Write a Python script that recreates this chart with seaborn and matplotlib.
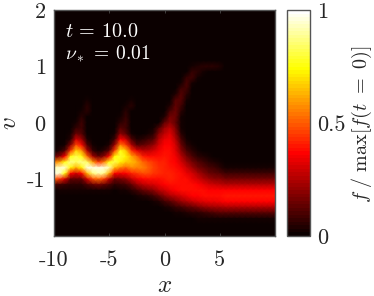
import numpy as np
import matplotlib
matplotlib.use('Agg')
import matplotlib.pyplot as plt
import seaborn as sns

# x grid -10..10 (step 0.5), v grid 1.2..-1.8 (step 0.1), values in percent of max
x_start, x_step = -10, 0.5
v_start, v_step = 1.2, 0.1
x_ticks = [-10, -5, 0, 5]
v_ticks = [2, 1, 0, -1]
cbar_ticks = [0, 0.5, 1]
cbar_labels = ['0', '0.5', '1']

f_rows = [
    [0]*41,
    [0]*41,
    [0]*25 + [2, 4, 5, 5, 5, 4, 0] + [0]*9,
    [0]*25 + [7, 6, 2] + [0]*13,
    [0]*24 + [7, 8, 2] + [0]*14,
    [0]*23 + [3, 10, 3] + [0]*15,
    [0]*23 + [9, 8] + [0]*16,
    [0]*22 + [4, 12, 5] + [0]*16,
    [0]*6 + [3] + [0]*7 + [3] + [0]*7 + [11, 11, 2] + [0]*16,
    [0]*6 + [5] + [0]*6 + [3, 5] + [0]*6 + [4, 14, 8] + [0]*17,
    [0]*5 + [3, 5] + [0]*6 + [6] + [0]*7 + [10, 15, 5] + [0]*17,
    [0]*5 + [6] + [0]*6 + [2, 7] + [0]*6 + [4, 16, 15, 3] + [0]*17,
    [0, 0, 0, 0, 3, 8, 1, 0, 0, 0, 0, 0, 5, 8, 0, 0, 0, 0, 0, 1, 14, 20, 14, 2] + [0]*17,
    [0, 0, 0, 0, 7, 9, 0, 0, 0, 0, 0, 0, 11, 8, 0, 0, 0, 0, 2, 12, 22, 27, 18, 3] + [0]*17,
    [0, 0, 0, 2, 15, 12, 1, 0, 0, 0, 0, 2, 20, 14, 2, 0, 0, 2, 5, 19, 28, 32, 21, 6, 1] + [0]*16,
    [0, 0, 0, 6, 31, 22, 4, 0, 0, 0, 1, 8, 36, 30, 12, 4, 6, 9, 12, 26, 33, 35, 26, 10, 3] + [0]*16,
    [0, 0, 3, 20, 48, 38, 11, 2, 0, 1, 4, 22, 56, 46, 25, 12, 14, 17, 21, 31, 36, 37, 30, 15, 6, 3] + [0]*15,
    [1, 4, 12, 45, 68, 58, 26, 7, 3, 5, 14, 46, 76, 66, 44, 34, 27, 28, 31, 35, 38, 38, 32, 20, 10, 6, 3, 1] + [0]*13,
    [15, 20, 36, 76, 82, 76, 52, 24, 14, 20, 38, 74, 79, 72, 62, 52, 42, 39, 38, 39, 40, 39, 35, 26, 16, 10, 6, 4, 2, 1] + [0]*11,
    [55, 60, 76, 88, 84, 88, 84, 60, 45, 54, 76, 82, 72, 66, 65, 60, 53, 47, 44, 42, 41, 39, 37, 30, 22, 16, 11, 8, 5, 4, 3] + [1]*10,
    [92, 94, 94, 72, 62, 72, 96, 96, 96, 96, 92, 64, 55, 50, 57, 56, 56, 50, 46, 43, 42, 40, 38, 35, 29, 22, 17, 13, 10, 8, 6] + [3]*10,
    [96, 94, 76, 36, 31, 36, 64, 86, 92, 88, 62, 36, 35, 37, 42, 45, 48, 47, 44, 43, 42, 41, 40, 38, 34, 30, 24, 20, 15, 13, 11] + [8]*10,
    [50, 44, 30, 14, 13, 14, 30, 48, 52, 46, 28, 15, 17, 20, 27, 33, 37, 38, 38, 39, 40, 41, 40, 39, 38, 34, 31, 26, 22, 20, 19] + [17]*10,
    [8, 8, 7, 5, 5, 6, 10, 14, 16, 14, 10, 6, 7, 9, 13, 21, 25, 29, 31, 34, 36, 38, 39, 39, 39, 38, 36, 33, 31, 29, 28] + [26]*10,
    [1, 2, 2, 2, 2, 2, 2, 3, 3, 3, 2, 1, 2, 3, 5, 9, 13, 17, 20, 25, 29, 33, 36, 38, 39, 39, 38, 38, 37, 37, 36] + [36]*10,
    [0]*14 + [1, 2, 4, 6, 9, 14, 19, 24, 28, 31, 34, 36, 37, 38, 39, 39, 39] + [40]*10,
    [0]*17 + [1, 2, 4, 8, 12, 17, 21, 24, 27, 30, 32, 33, 34, 35] + [36]*10,
    [0]*20 + [2, 4, 7, 9, 12, 14, 17, 19, 21, 22, 23] + [24]*10,
    [0]*20 + [0, 1, 2, 3, 4, 5, 6, 7, 9, 10, 11] + [11]*10,
    [0]*24 + [1, 1, 2, 2, 3, 3, 3] + [3]*10,
    [0]*41,
]
f_grid = np.array(f_rows) / 100


def col(x):
    return (x - x_start) / x_step


def row(v):
    return (v_start - v) / v_step


sns.set_theme(style='ticks')
plt.rcParams['font.family'] = ['cmr10', 'DejaVu Serif']
plt.rcParams['mathtext.fontset'] = 'cm'
plt.rcParams['axes.unicode_minus'] = False
plt.rcParams['axes.formatter.use_mathtext'] = True

cmap = plt.get_cmap('hot', 64)
edge = '#555555'
tick_size = 16

fig = plt.figure(figsize=(3.74, 2.96), dpi=100)
ax = fig.add_axes([54/374, 60.5/296, 221/374, 225.5/296])
cax = fig.add_axes([287/374, 60/296, 23/374, 226/296])

sns.heatmap(f_grid, ax=ax, cbar_ax=cax, cmap=cmap, vmin=0, vmax=1, shading='gouraud',
            xticklabels=False, yticklabels=False, cbar_kws={'ticks': cbar_ticks})

ax.set_facecolor(cmap(0))
ax.set_xlim(col(-10), col(10))
ax.set_ylim(row(-2), row(2))
ax.set_xticks([col(x) for x in x_ticks], [str(x) for x in x_ticks])
ax.set_yticks([row(v) for v in v_ticks], [str(v) for v in v_ticks])
ax.tick_params(axis='both', which='both', direction='in', length=2.2, width=0.5, color=edge,
               top=True, right=True, labelsize=tick_size, labelcolor='#262626')
ax.tick_params(axis='y', labelrotation=0, pad=6)
ax.tick_params(axis='x', labelrotation=0, pad=11)
for s in ax.spines.values():
    s.set_visible(True)
    s.set_color(edge)
    s.set_linewidth(1)

ax.text(0.05, 0.902, r'$t$ = 10.0', transform=ax.transAxes, color='white', fontsize=14.5, va='center')
ax.text(0.05, 0.804, r'$\nu_*$ = 0.01', transform=ax.transAxes, color='white', fontsize=14, va='center')

fig.text(9.5/374, 1 - 123/296, r'$v$', fontsize=18, rotation=90, ha='center', va='center', color='#262626')
fig.text(165/374, 1 - 285.5/296, r'$x$', fontsize=18, ha='center', va='center', color='#262626')

cax.set_yticklabels(cbar_labels)
cax.tick_params(direction='in', length=2.2, width=0.5, color=edge, labelsize=tick_size, labelcolor='#262626', pad=5)
cb = ax.collections[0].colorbar
cb.outline.set_visible(True)
cb.outline.set_edgecolor(edge)
cb.outline.set_linewidth(1)
fig.text(361.5/374, 1 - 124/296, r'$f\ /\ \max[f(t\ =\ 0)]$', fontsize=14.5, rotation=90,
         ha='center', va='center', color='#262626')

fig.savefig('out.png', dpi=100, facecolor='white')
